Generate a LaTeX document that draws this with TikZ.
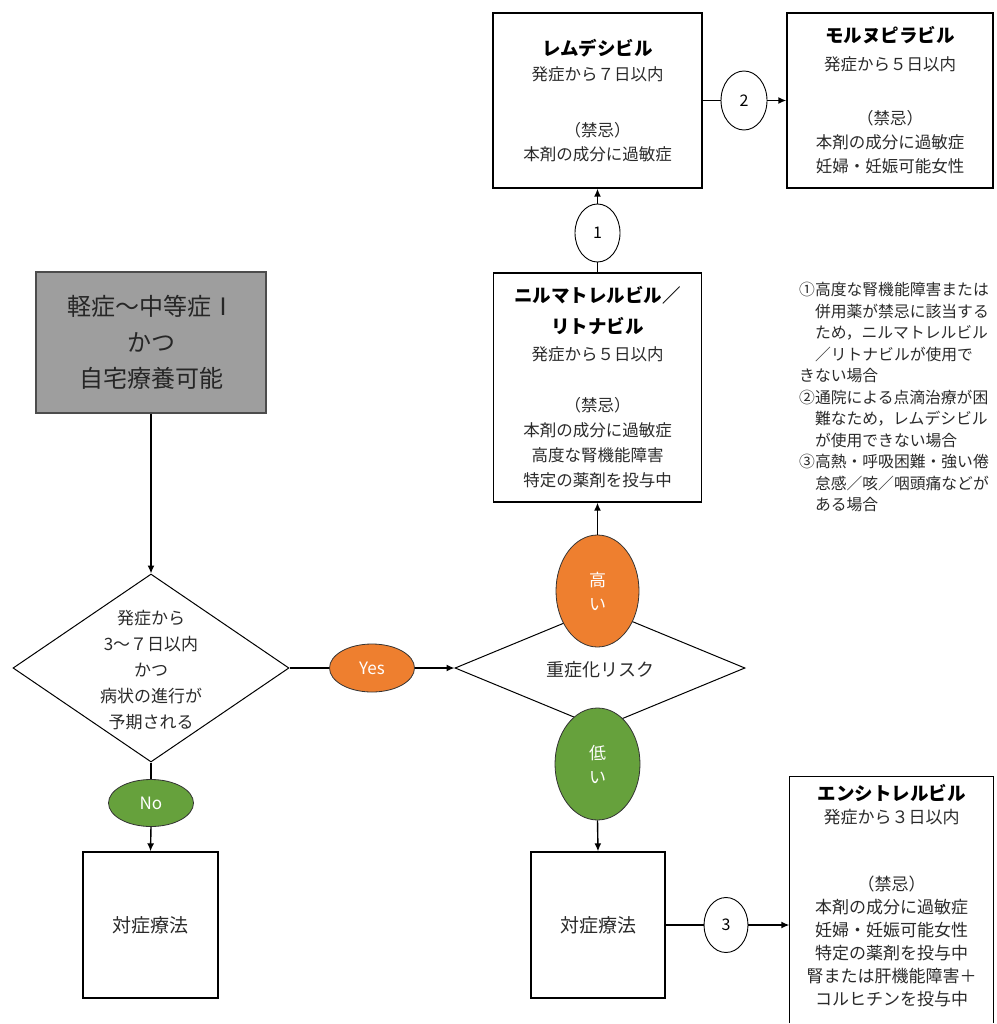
\documentclass[tikz,border=0pt]{standalone}
\usepackage{fontspec}
\setmainfont{Noto Sans CJK JP}
\usetikzlibrary{arrows.meta,shapes.geometric}
\definecolor{orangeF}{HTML}{EE7F2F}
\definecolor{greenF}{HTML}{66A13C}
\definecolor{greyF}{HTML}{9E9E9E}
\definecolor{txt}{HTML}{2A2A2A}
\newcommand\ttl[1]{{\fontsize{18.5}{25}\selectfont\bfseries\color{black}#1}}
\begin{document}
\begin{tikzpicture}[x=1pt,y=-1pt,
  box/.style={draw=black, line width=1.4pt, rectangle, inner sep=0pt, align=center, text=txt, font=\fontsize{16.5}{24}\selectfont},
  conn/.style={line width=1.4pt, draw=black},
  arr/.style={conn, -{Latex[length=8pt,width=7pt]}},
  circ/.style={ellipse, draw=black, line width=0.9pt, fill=white, inner sep=0pt, font=\fontsize{16}{16}\selectfont},
  pill/.style={ellipse, draw=black!80, line width=0.8pt, inner sep=0pt, text=white, align=center, font=\fontsize{17}{24}\selectfont},
  diam/.style={diamond, draw=black, line width=1pt, inner sep=0pt},
  lbl/.style={align=center, text=txt, inner sep=0pt},
]
\useasboundingbox (0,0) rectangle (996,1024);

% start box
\node[box, fill=greyF, draw=black!70, line width=1.2pt, minimum width=230pt, minimum height=141pt,
      font=\fontsize{24}{36}\selectfont, text=black!85] (start) at (151,342.5) {軽症～中等症Ⅰ\\かつ\\自宅療養可能};

% decision 1
\node[diam, minimum width=276pt, minimum height=188pt] (q1) at (151,668) {};
\node[lbl, font=\fontsize{17}{26}\selectfont] (q1t) at (151,670) {発症から\\3～７日以内\\かつ\\病状の進行が\\予期される};

% decision 2
\node[diam, minimum width=290pt, minimum height=120pt] (q2) at (600,668) {};
\node[lbl, font=\fontsize{18}{24}\selectfont] (q2t) at (600,670) {重症化リスク};

% pills
\node[pill, fill=orangeF, minimum width=85pt, minimum height=48pt] (yes) at (372,668) {Yes};
\node[pill, fill=greenF, minimum width=85pt, minimum height=47pt] (no) at (151,803) {No};
\node[pill, fill=orangeF, minimum width=83pt, minimum height=112pt] (high) at (597.5,591) {高\\い};
\node[pill, fill=greenF, minimum width=85pt, minimum height=112pt] (low) at (597.5,764) {低\\い};

% drug boxes
\node[box, minimum width=209pt, minimum height=175pt] (rem) at (597.5,100.5)
  {\ttl{レムデシビル}\\[1pt]発症から７日以内\\[32pt]（禁忌）\\本剤の成分に過敏症};
\node[box, minimum width=206pt, minimum height=175pt] (mol) at (890,100.5)
  {\ttl{モルヌピラビル}\\[4pt]発症から５日以内\\[30pt]（禁忌）\\本剤の成分に過敏症\\妊婦・妊娠可能女性};
\node[box, minimum width=208pt, minimum height=229pt, font=\fontsize{16.5}{25}\selectfont] (nil) at (597.5,387.5)
  {\ttl{ニルマトレルビル／}\\[6pt]\ttl{リトナビル}\\[2pt]発症から５日以内\\[26pt]（禁忌）\\本剤の成分に過敏症\\高度な腎機能障害\\特定の薬剤を投与中};
\node[box, draw=none, minimum width=203pt, minimum height=238pt, font=\fontsize{17}{23}\selectfont] (ent) at (891.5,896)
  {\ttl{エンシトレルビル}\\発症から３日以内\\[44pt]（禁忌）\\本剤の成分に過敏症\\妊婦・妊娠可能女性\\特定の薬剤を投与中\\腎または肝機能障害＋\\コルヒチンを投与中};
\coordinate (entbot) at (891.5,1023);
\draw[line width=1.4pt] (ent.north west |- entbot) -- (ent.north west) -- (ent.north east) -- (ent.north east |- entbot);

% symptomatic therapy boxes
\node[box, minimum width=135pt, minimum height=146pt, font=\fontsize{19}{24}\selectfont] (sym1) at (150.5,925) {対症療法};
\node[box, minimum width=134pt, minimum height=146pt, font=\fontsize{19}{24}\selectfont] (sym2) at (598,925) {対症療法};

% numbered circles
\node[circ, minimum width=45pt, minimum height=58pt] (c1) at (597.5,233) {1};
\node[circ, minimum width=46pt, minimum height=59pt] (c2) at (744,100.5) {2};
\node[circ, minimum width=44pt, minimum height=55pt] (c3) at (726,925) {3};

% notes
\node[anchor=north west, align=left, inner sep=0pt, text=txt, font=\fontsize{15.8}{21.5}\selectfont] (notes) at (799,282)
  {①高度な腎機能障害または\\
   \phantom{①}併用薬が禁忌に該当する\\
   \phantom{①}ため，ニルマトレルビル\\
   \phantom{①}／リトナビルが使用で\\
   きない場合\\
   ②通院による点滴治療が困\\
   \phantom{①}難なため，レムデシビル\\
   \phantom{①}が使用できない場合\\
   ③高熱・呼吸困難・強い倦\\
   \phantom{①}怠感／咳／咽頭痛などが\\
   \phantom{①}ある場合};

% connectors
\draw[arr] (start.south) -- (q1.north);
\draw[conn] (q1.east) -- (yes.west);
\draw[arr] (yes.east) -- (q2.west);
\draw[conn] (q1.south) -- (no.north);
\draw[arr] (no.south) -- (sym1.north);
\draw[arr] (high.north) -- (nil.south);
\draw[conn] (nil.north) -- (c1.south);
\draw[arr] (c1.north) -- (rem.south);
\draw[conn] (rem.east) -- (c2.west);
\draw[arr] (c2.east) -- (mol.west);
\draw[arr] (low.south) -- (sym2.north);
\draw[conn] (sym2.east) -- (c3.west);
\draw[arr] (c3.east) -- (c3.east -| ent.west);
\end{tikzpicture}
\end{document}
